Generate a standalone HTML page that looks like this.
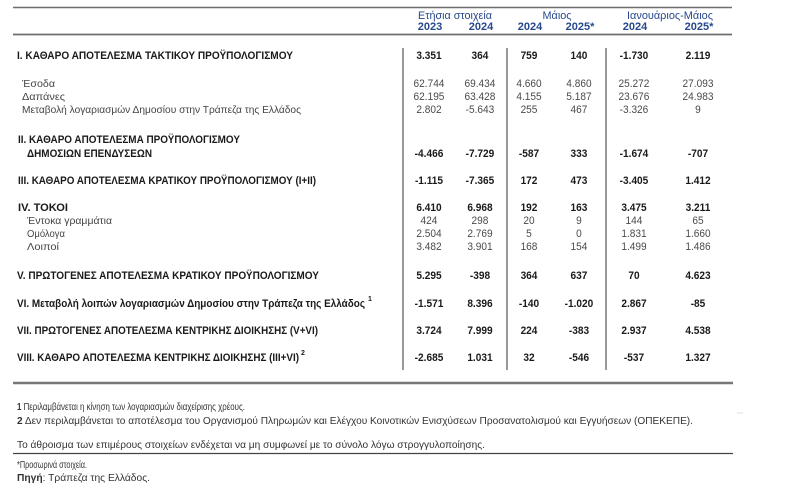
<!DOCTYPE html>
<html>
<head>
<meta charset="utf-8">
<style>
html,body{margin:0;padding:0;background:#fff;}
svg{display:block;}
</style>
</head>
<body>
<svg width="799" height="486" viewBox="0 0 799 486" xmlns="http://www.w3.org/2000/svg" font-family="'Liberation Sans', Arial, sans-serif">
<rect width="799" height="486" fill="#fff"/>

<!-- horizontal rules -->
<line x1="13" y1="7.5" x2="732" y2="7.5" stroke="#6e6e6e" stroke-width="1.6"/>
<line x1="13" y1="34.5" x2="732" y2="34.5" stroke="#6e6e6e" stroke-width="1.8"/>
<line x1="13" y1="383" x2="733" y2="383" stroke="#777" stroke-width="2.4"/>
<line x1="13" y1="453.5" x2="733" y2="453.5" stroke="#444" stroke-width="1.3"/>
<line x1="737" y1="413" x2="743" y2="413" stroke="#ddd" stroke-width="1"/>

<!-- vertical rules -->
<line x1="403" y1="48" x2="403" y2="370" stroke="#555" stroke-width="1.2"/>
<line x1="507" y1="48" x2="507" y2="370" stroke="#555" stroke-width="1.2"/>
<line x1="606" y1="48" x2="606" y2="370" stroke="#555" stroke-width="1.2"/>

<!-- header -->
<g fill="#27488c" font-size="11" text-anchor="middle">
<text x="455" y="19" textLength="74" lengthAdjust="spacingAndGlyphs">Ετήσια στοιχεία</text>
<text x="557" y="19" textLength="29" lengthAdjust="spacingAndGlyphs">Μάιος</text>
<text x="670" y="19" textLength="86" lengthAdjust="spacingAndGlyphs">Ιανουάριος-Μάιος</text>
<g font-weight="bold">
<text x="430" y="30">2023</text>
<text x="481" y="30">2024</text>
<text x="530" y="30">2024</text>
<text x="580" y="30">2025*</text>
<text x="635" y="30">2024</text>
<text x="699" y="30">2025*</text>
</g>
</g>

<!-- row labels -->
<g fill="#1a1a1a" font-size="11" font-weight="bold">
<text x="17" y="59" textLength="276" lengthAdjust="spacingAndGlyphs">I. ΚΑΘΑΡΟ ΑΠΟΤΕΛΕΣΜΑ  ΤΑΚΤΙΚΟΥ ΠΡΟΫΠΟΛΟΓΙΣΜΟΥ</text>
<text x="18" y="143" textLength="222" lengthAdjust="spacingAndGlyphs">II. ΚΑΘΑΡΟ ΑΠΟΤΕΛΕΣΜΑ ΠΡΟΫΠΟΛΟΓΙΣΜΟΥ</text>
<text x="27" y="157" textLength="125" lengthAdjust="spacingAndGlyphs">ΔΗΜΟΣΙΩΝ ΕΠΕΝΔΥΣΕΩΝ</text>
<text x="18" y="184" textLength="298" lengthAdjust="spacingAndGlyphs">III. ΚΑΘΑΡΟ ΑΠΟΤΕΛΕΣΜΑ ΚΡΑΤΙΚΟΥ ΠΡΟΫΠΟΛΟΓΙΣΜΟΥ (I+II)</text>
<text x="18" y="211" textLength="50" lengthAdjust="spacingAndGlyphs">IV. ΤΟΚΟΙ</text>
<text x="17" y="279" textLength="302" lengthAdjust="spacingAndGlyphs">V. ΠΡΩΤΟΓΕΝΕΣ ΑΠΟΤΕΛΕΣΜΑ  ΚΡΑΤΙΚΟΥ ΠΡΟΫΠΟΛΟΓΙΣΜΟΥ</text>
<text x="17" y="307" textLength="348" lengthAdjust="spacingAndGlyphs">VI. Μεταβολή λοιπών λογαριασμών Δημοσίου στην Τράπεζα της Ελλάδος</text>
<text x="368" y="301" font-size="7">1</text>
<text x="17" y="334" textLength="301" lengthAdjust="spacingAndGlyphs">VII. ΠΡΩΤΟΓΕΝΕΣ ΑΠΟΤΕΛΕΣΜΑ ΚΕΝΤΡΙΚΗΣ ΔΙΟΙΚΗΣΗΣ (V+VI)</text>
<text x="17" y="361" textLength="282" lengthAdjust="spacingAndGlyphs">VIII. ΚΑΘΑΡΟ ΑΠΟΤΕΛΕΣΜΑ ΚΕΝΤΡΙΚΗΣ ΔΙΟΙΚΗΣΗΣ (III+VI)</text>
<text x="301" y="355" font-size="7">2</text>
</g>
<g fill="#444" font-size="10.5">
<text x="22" y="87" textLength="33" lengthAdjust="spacingAndGlyphs">Έσοδα</text>
<text x="22" y="100" textLength="43" lengthAdjust="spacingAndGlyphs">Δαπάνες</text>
<text x="22" y="113" textLength="279" lengthAdjust="spacingAndGlyphs">Μεταβολή λογαριασμών Δημοσίου στην Τράπεζα της Ελλάδος</text>
<text x="27" y="224" textLength="85" lengthAdjust="spacingAndGlyphs">Έντοκα γραμμάτια</text>
<text x="27" y="237" textLength="38" lengthAdjust="spacingAndGlyphs">Ομόλογα</text>
<text x="27" y="250" textLength="32" lengthAdjust="spacingAndGlyphs">Λοιποί</text>
</g>

<!-- numbers (compressed horizontally) -->
<g transform="scale(0.92 1)" font-size="11" text-anchor="middle">
<g fill="#1a1a1a" font-weight="bold">
<text x="466.3" y="59">3.351</text><text x="521.7" y="59">364</text><text x="575" y="59">759</text><text x="629.3" y="59">140</text><text x="689.1" y="59">-1.730</text><text x="758.7" y="59">2.119</text>

<text x="466.3" y="157">-4.466</text><text x="521.7" y="157">-7.729</text><text x="575" y="157">-587</text><text x="629.3" y="157">333</text><text x="689.1" y="157">-1.674</text><text x="758.7" y="157">-707</text>

<text x="466.3" y="184">-1.115</text><text x="521.7" y="184">-7.365</text><text x="575" y="184">172</text><text x="629.3" y="184">473</text><text x="689.1" y="184">-3.405</text><text x="758.7" y="184">1.412</text>

<text x="466.3" y="211">6.410</text><text x="521.7" y="211">6.968</text><text x="575" y="211">192</text><text x="629.3" y="211">163</text><text x="689.1" y="211">3.475</text><text x="758.7" y="211">3.211</text>

<text x="466.3" y="279">5.295</text><text x="521.7" y="279">-398</text><text x="575" y="279">364</text><text x="629.3" y="279">637</text><text x="689.1" y="279">70</text><text x="758.7" y="279">4.623</text>

<text x="466.3" y="307">-1.571</text><text x="521.7" y="307">8.396</text><text x="575" y="307">-140</text><text x="629.3" y="307">-1.020</text><text x="689.1" y="307">2.867</text><text x="758.7" y="307">-85</text>

<text x="466.3" y="334">3.724</text><text x="521.7" y="334">7.999</text><text x="575" y="334">224</text><text x="629.3" y="334">-383</text><text x="689.1" y="334">2.937</text><text x="758.7" y="334">4.538</text>

<text x="466.3" y="361">-2.685</text><text x="521.7" y="361">1.031</text><text x="575" y="361">32</text><text x="629.3" y="361">-546</text><text x="689.1" y="361">-537</text><text x="758.7" y="361">1.327</text>
</g>
<g fill="#4a4a4a">
<text x="466.3" y="87">62.744</text><text x="521.7" y="87">69.434</text><text x="575" y="87">4.660</text><text x="629.3" y="87">4.860</text><text x="689.1" y="87">25.272</text><text x="758.7" y="87">27.093</text>

<text x="466.3" y="100">62.195</text><text x="521.7" y="100">63.428</text><text x="575" y="100">4.155</text><text x="629.3" y="100">5.187</text><text x="689.1" y="100">23.676</text><text x="758.7" y="100">24.983</text>

<text x="466.3" y="113">2.802</text><text x="521.7" y="113">-5.643</text><text x="575" y="113">255</text><text x="629.3" y="113">467</text><text x="689.1" y="113">-3.326</text><text x="758.7" y="113">9</text>

<text x="466.3" y="224">424</text><text x="521.7" y="224">298</text><text x="575" y="224">20</text><text x="629.3" y="224">9</text><text x="689.1" y="224">144</text><text x="758.7" y="224">65</text>

<text x="466.3" y="237">2.504</text><text x="521.7" y="237">2.769</text><text x="575" y="237">5</text><text x="629.3" y="237">0</text><text x="689.1" y="237">1.831</text><text x="758.7" y="237">1.660</text>

<text x="466.3" y="250">3.482</text><text x="521.7" y="250">3.901</text><text x="575" y="250">168</text><text x="629.3" y="250">154</text><text x="689.1" y="250">1.499</text><text x="758.7" y="250">1.486</text>
</g>
</g>

<!-- footnotes -->
<g fill="#333" font-size="10.5">
<text x="17" y="410" textLength="228" lengthAdjust="spacingAndGlyphs"><tspan font-weight="bold">1</tspan> Περιλαμβάνεται η κίνηση των λογαριασμών διαχείρισης χρέους.</text>
<text x="17" y="424" textLength="676" lengthAdjust="spacingAndGlyphs"><tspan font-weight="bold">2</tspan> Δεν περιλαμβάνεται το αποτέλεσμα του Οργανισμού Πληρωμών και Ελέγχου Κοινοτικών Ενισχύσεων Προσανατολισμού και Εγγυήσεων (ΟΠΕΚΕΠΕ).</text>
<text x="17" y="448" textLength="468" lengthAdjust="spacingAndGlyphs">Το άθροισμα των επιμέρους στοιχείων ενδέχεται να μη συμφωνεί με το σύνολο λόγω στρογγυλοποίησης.</text>
<text x="17" y="468" textLength="70" lengthAdjust="spacingAndGlyphs">*Προσωρινά στοιχεία.</text>
<text x="17" y="481" textLength="133" lengthAdjust="spacingAndGlyphs"><tspan font-weight="bold">Πηγή</tspan>: Τράπεζα της Ελλάδος.</text>
</g>
</svg>
</body>
</html>
